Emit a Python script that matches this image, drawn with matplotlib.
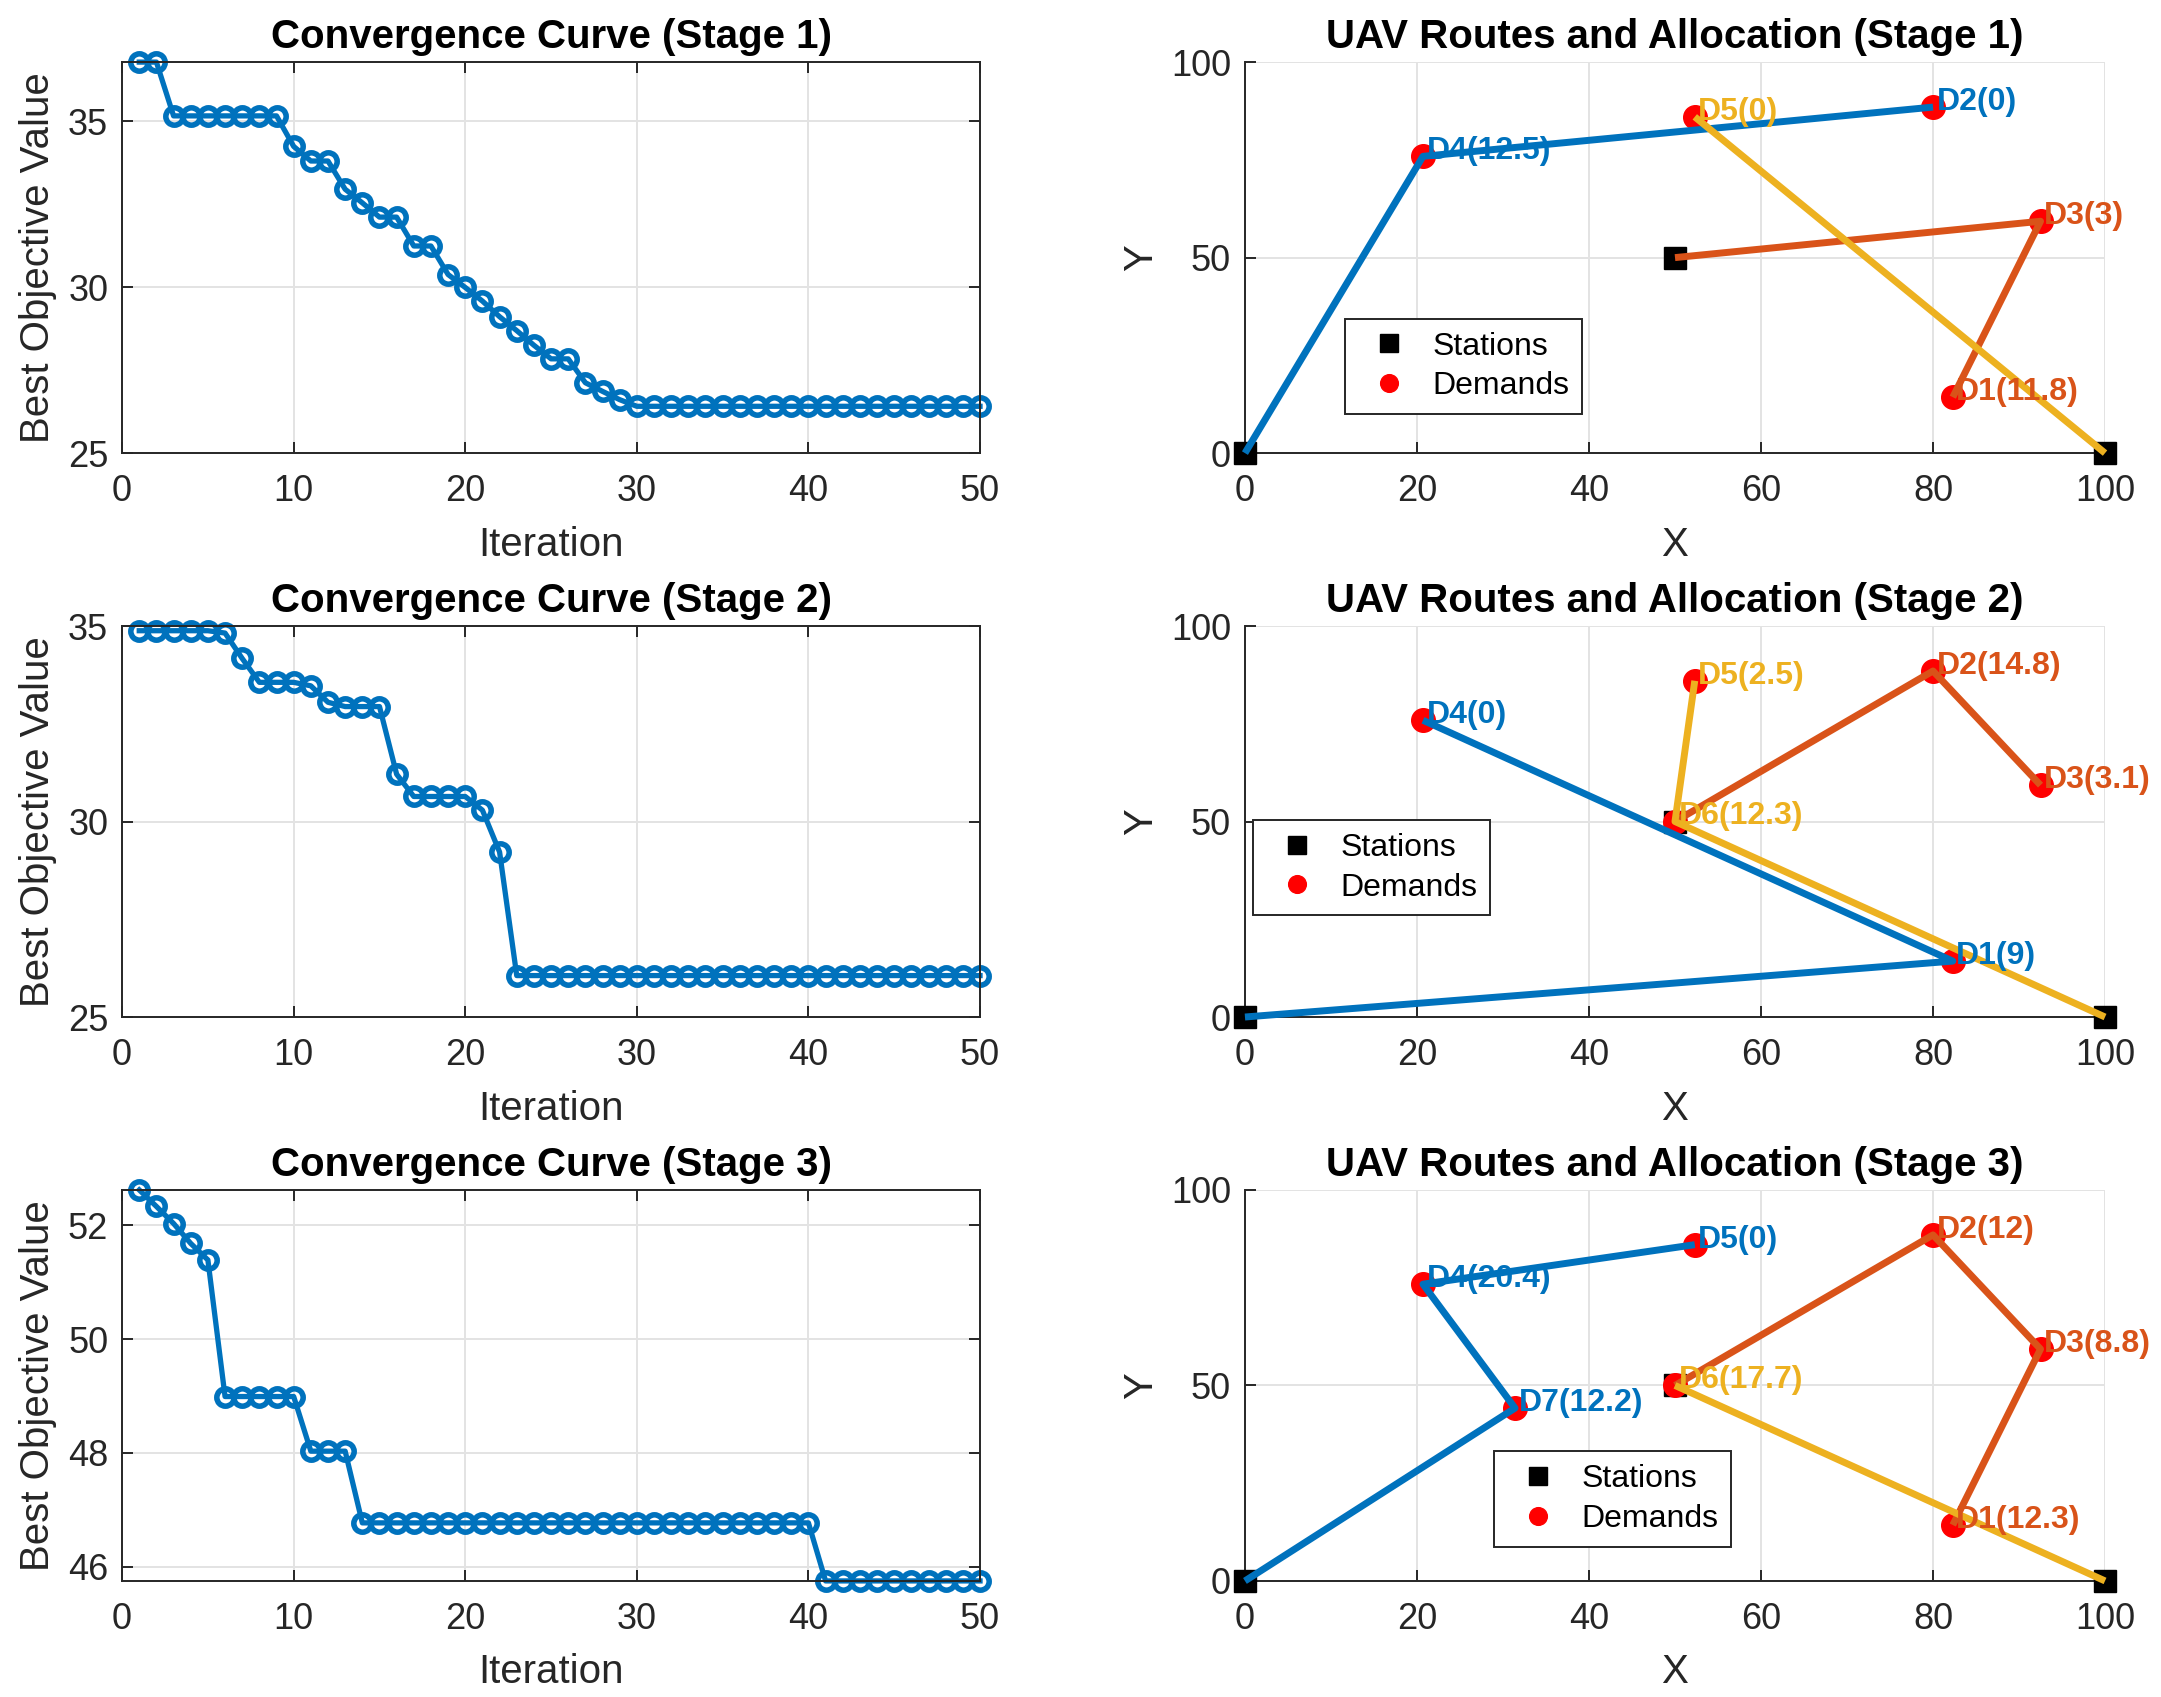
import matplotlib
matplotlib.use('Agg')
import matplotlib.pyplot as plt
import numpy as np

plt.rcParams['font.family'] = ['Liberation Sans', 'DejaVu Sans']

# convergence data (best objective per iteration)
iters = np.arange(1, 51)
conv_stage1 = [36.78, 36.78, 35.16, 35.16, 35.16, 35.16, 35.16, 35.16, 35.16, 34.24,
               33.80, 33.80, 32.95, 32.54, 32.11, 32.11, 31.24, 31.24, 30.38, 29.99,
               29.58, 29.11, 28.69, 28.25, 27.84, 27.84, 27.12, 26.86, 26.61, 26.41,
               26.41, 26.41, 26.41, 26.41, 26.41, 26.41, 26.41, 26.41, 26.41, 26.41,
               26.41, 26.41, 26.41, 26.41, 26.41, 26.41, 26.41, 26.41, 26.41, 26.41]
conv_stage2 = [34.88, 34.88, 34.88, 34.88, 34.88, 34.82, 34.17, 33.56, 33.56, 33.56,
               33.47, 33.05, 32.94, 32.94, 32.94, 31.21, 30.64, 30.64, 30.64, 30.64,
               30.29, 29.22, 26.06, 26.06, 26.06, 26.06, 26.06, 26.06, 26.06, 26.06,
               26.06, 26.06, 26.06, 26.06, 26.06, 26.06, 26.06, 26.06, 26.06, 26.06,
               26.06, 26.06, 26.06, 26.06, 26.06, 26.06, 26.06, 26.06, 26.06, 26.06]
conv_stage3 = [52.62, 52.33, 52.03, 51.68, 51.39, 48.99, 48.99, 48.99, 48.99, 48.99,
               48.03, 48.03, 48.03, 46.77, 46.77, 46.77, 46.77, 46.77, 46.77, 46.77,
               46.77, 46.77, 46.77, 46.77, 46.77, 46.77, 46.77, 46.77, 46.77, 46.77,
               46.77, 46.77, 46.77, 46.77, 46.77, 46.77, 46.77, 46.77, 46.77, 46.77,
               45.75, 45.75, 45.75, 45.75, 45.75, 45.75, 45.75, 45.75, 45.75, 45.75]

# stations and demand points
station_names = ['S1', 'S2', 'S3']
station_x = [0, 50, 100]
station_y = [0, 50, 0]
demand_names = ['D1', 'D2', 'D3', 'D4', 'D5', 'D6', 'D7']
demand_x = [82.3, 80.0, 92.5, 20.7, 52.3, 50.0, 31.4]
demand_y = [14.3, 88.5, 59.3, 75.9, 86.0, 50.0, 44.2]

# routes per UAV (UAV1, UAV2, UAV3) and allocations per stage
routes_stage1 = [['S1', 'D4', 'D2'], ['S2', 'D3', 'D1'], ['S3', 'D5']]
routes_stage2 = [['S1', 'D1', 'D4'], ['S2', 'D2', 'D3'], ['S3', 'D6', 'D5']]
routes_stage3 = [['S1', 'D7', 'D4', 'D5'], ['S2', 'D2', 'D3', 'D1'], ['S3', 'D6']]
alloc_stage1 = {'D1': 11.8, 'D2': 0, 'D3': 3, 'D4': 12.5, 'D5': 0}
alloc_stage2 = {'D1': 9, 'D2': 14.8, 'D3': 3.1, 'D4': 0, 'D5': 2.5, 'D6': 12.3}
alloc_stage3 = {'D1': 12.3, 'D2': 12, 'D3': 8.8, 'D4': 20.4, 'D5': 0, 'D6': 17.7, 'D7': 12.2}

uav_colors = ['#0072BD', '#D95319', '#EDB120']
legend_anchor = [(0.116, 0.10), (0.009, 0.26), (0.289, 0.088)]

conv_data = [conv_stage1, conv_stage2, conv_stage3]
conv_ylim = [(25, 36.78), (25, 35), (45.75, 52.62)]
conv_yticks = [[25, 30, 35], [25, 30, 35], [46, 48, 50, 52]]
routes_all = [routes_stage1, routes_stage2, routes_stage3]
alloc_all = [alloc_stage1, alloc_stage2, alloc_stage3]

AX_COL = '#262626'
GRID_COL = '#e3e3e3'
TICK_FS = 26
LABEL_FS = 29
TITLE_FS = 29


def style_axes(ax):
    ax.grid(True, color=GRID_COL, linewidth=1.4)
    ax.set_axisbelow(True)
    for sp in ax.spines.values():
        sp.set_color(AX_COL)
        sp.set_linewidth(1.4)
    ax.tick_params(direction='in', length=8, width=1.4, colors=AX_COL,
                   labelsize=TICK_FS, pad=10)
    ax.tick_params(axis='x', pad=15)


def point(name):
    if name in station_names:
        i = station_names.index(name)
        return station_x[i], station_y[i]
    i = demand_names.index(name)
    return demand_x[i], demand_y[i]


fig = plt.figure(figsize=(21.61, 16.97), dpi=100)
bottoms = [0.733, 0.4007, 0.0684]

for s in range(3):
    # convergence curve
    ax = fig.add_axes([0.0565, bottoms[s], 0.397, 0.2304])
    style_axes(ax)
    ax.plot(iters, conv_data[s], '-o', color=uav_colors[0], linewidth=3.8,
            markersize=12.5, markeredgewidth=4, markerfacecolor='none', clip_on=False)
    ax.set_xlim(0, 50)
    ax.set_ylim(*conv_ylim[s])
    ax.set_xticks([0, 10, 20, 30, 40, 50])
    ax.set_yticks(conv_yticks[s])
    ax.tick_params(top=True, right=True)
    ax.set_xlabel('Iteration', fontsize=LABEL_FS, color=AX_COL, labelpad=12)
    ax.set_ylabel('Best Objective Value', fontsize=LABEL_FS, color=AX_COL, labelpad=8)
    ax.set_title('Convergence Curve (Stage %d)' % (s + 1), fontsize=TITLE_FS,
                 fontweight='bold', pad=10)

    # routes and allocation
    ax2 = fig.add_axes([0.5761, bottoms[s], 0.398, 0.2304])
    style_axes(ax2)
    ax2.spines['top'].set_visible(False)
    ax2.spines['right'].set_visible(False)
    alloc = alloc_all[s]
    names = [d for d in demand_names if d in alloc]
    ax2.plot(station_x, station_y, 's', color='black', markersize=16.5,
             linestyle='none', label='Stations', clip_on=False, zorder=3)
    ax2.plot([point(d)[0] for d in names], [point(d)[1] for d in names], 'o',
             color='red', markersize=17, linestyle='none', label='Demands',
             clip_on=False, zorder=4)
    for u, route in enumerate(routes_all[s]):
        xs = [point(n)[0] for n in route]
        ys = [point(n)[1] for n in route]
        ax2.plot(xs, ys, '-', color=uav_colors[u], linewidth=5, zorder=5,
                 solid_capstyle='butt', clip_on=False)
        for n in route[1:]:
            px, py = point(n)
            ax2.text(px + 0.4, py + 1.3, '%s(%g)' % (n, alloc[n]), color=uav_colors[u],
                     fontsize=23, fontweight='bold', va='center', ha='left', zorder=6)
    ax2.set_xlim(0, 100)
    ax2.set_ylim(0, 100)
    ax2.set_xticks([0, 20, 40, 60, 80, 100])
    ax2.set_yticks([0, 50, 100])
    ax2.set_xlabel('X', fontsize=LABEL_FS, color=AX_COL, labelpad=12)
    ax2.set_ylabel('Y', fontsize=LABEL_FS, color=AX_COL, labelpad=8)
    ax2.set_title('UAV Routes and Allocation (Stage %d)' % (s + 1), fontsize=TITLE_FS,
                  fontweight='bold', pad=10)
    leg = ax2.legend(loc='lower left', bbox_to_anchor=legend_anchor[s], fontsize=23,
                     numpoints=1, fancybox=False, framealpha=1, edgecolor=AX_COL,
                     borderpad=0.4, handlelength=2.0, handletextpad=0.35,
                     labelspacing=0.3, borderaxespad=0, markerscale=0.75)
    leg.get_frame().set_linewidth(1.4)
    leg.set_zorder(7)

fig.savefig('out.png', dpi=100)
